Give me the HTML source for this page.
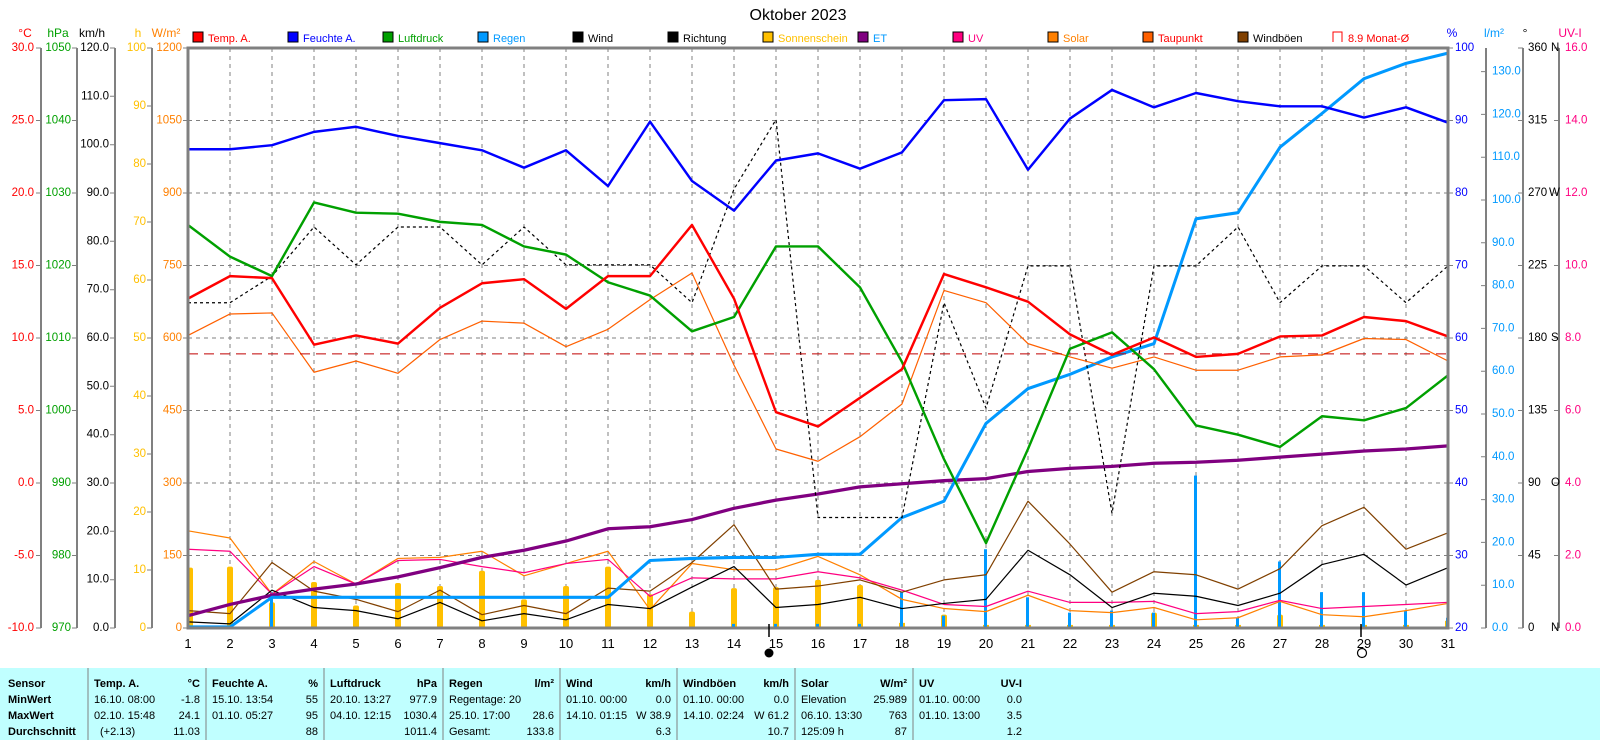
<!DOCTYPE html>
<html><head><meta charset="utf-8"><style>
html,body{margin:0;padding:0;background:#fff;}
svg{display:block;font-family:"Liberation Sans",sans-serif;}
</style></head><body>
<svg width="1600" height="740" viewBox="0 0 1600 740" xmlns="http://www.w3.org/2000/svg">
<rect width="1600" height="740" fill="#fff"/>
<text x="798" y="20" font-size="16" text-anchor="middle">Oktober 2023</text>
<g font-size="11">
<rect x="193" y="32" width="10" height="10" fill="#f00" stroke="#000"/><text x="208" y="42" fill="#f00">Temp. A.</text>
<rect x="288" y="32" width="10" height="10" fill="#00f" stroke="#000"/><text x="303" y="42" fill="#00f">Feuchte A.</text>
<rect x="383" y="32" width="10" height="10" fill="#00a000" stroke="#000"/><text x="398" y="42" fill="#00a000">Luftdruck</text>
<rect x="478" y="32" width="10" height="10" fill="#0099ff" stroke="#000"/><text x="493" y="42" fill="#0099ff">Regen</text>
<rect x="573" y="32" width="10" height="10" fill="#000" stroke="#000"/><text x="588" y="42" fill="#000">Wind</text>
<rect x="668" y="32" width="10" height="10" fill="#000" stroke="#000"/><text x="683" y="42" fill="#000">Richtung</text>
<rect x="763" y="32" width="10" height="10" fill="#ffc000" stroke="#000"/><text x="778" y="42" fill="#ffc000">Sonnenschein</text>
<rect x="858" y="32" width="10" height="10" fill="#800080" stroke="#000"/><text x="873" y="42" fill="#0099ff">ET</text>
<rect x="953" y="32" width="10" height="10" fill="#ff0080" stroke="#000"/><text x="968" y="42" fill="#ff0080">UV</text>
<rect x="1048" y="32" width="10" height="10" fill="#ff8000" stroke="#000"/><text x="1063" y="42" fill="#ff8000">Solar</text>
<rect x="1143" y="32" width="10" height="10" fill="#ff6000" stroke="#000"/><text x="1158" y="42" fill="#f00">Taupunkt</text>
<rect x="1238" y="32" width="10" height="10" fill="#804000" stroke="#000"/><text x="1253" y="42" fill="#000">Windböen</text>
<path d="M1333 42 V32 H1342 V42" fill="none" stroke="#f00"/><text x="1348" y="42" fill="#f00">8.9 Monat-Ø</text>
</g>
<g font-size="12" text-anchor="middle">
<text x="25" y="37" fill="#f00">°C</text><text x="58" y="37" fill="#00a000">hPa</text><text x="92" y="37">km/h</text>
<text x="138" y="37" fill="#ffc000">h</text><text x="166" y="37" fill="#ff8000">W/m²</text>
<text x="1452" y="37" fill="#00f">%</text><text x="1494" y="37" fill="#0099ff">l/m²</text><text x="1525" y="37">°</text><text x="1570" y="37" fill="#ff0080">UV-I</text>
</g>
<g stroke="#808080" stroke-width="1" stroke-dasharray="4,4">
<path d="M188 120.5H1448M188 193H1448M188 265.5H1448M188 338H1448M188 410.5H1448M188 483H1448M188 555.5H1448"/>
<path d="M230 48V628M272 48V628M314 48V628M356 48V628M398 48V628M440 48V628M482 48V628M524 48V628M566 48V628M608 48V628M650 48V628M692 48V628M734 48V628M776 48V628M818 48V628M860 48V628M902 48V628M944 48V628M986 48V628M1028 48V628M1070 48V628M1112 48V628M1154 48V628M1196 48V628M1238 48V628M1280 48V628M1322 48V628M1364 48V628M1406 48V628"/>
</g>
<g stroke="#808080" stroke-width="2" fill="none">
<path d="M41 48V628M77 48V628M115 48V628M152 48V628M1486 48V628M1523 48V628M1559 48V628"/>
</g>
<g stroke="#808080" stroke-width="1">
<path d="M36 48H41M36 120.5H41M36 193H41M36 265.5H41M36 338H41M36 410.5H41M36 483H41M36 555.5H41M36 628H41"/>
<path d="M72 48H77M72 120.5H77M72 193H77M72 265.5H77M72 338H77M72 410.5H77M72 483H77M72 555.5H77M72 628H77"/>
<path d="M110 48H115M110 96.3H115M110 144.7H115M110 193H115M110 241.3H115M110 289.7H115M110 338H115M110 386.3H115M110 434.7H115M110 483H115M110 531.3H115M110 579.7H115M110 628H115"/>
<path d="M147 48H152M147 106H152M147 164H152M147 222H152M147 280H152M147 338H152M147 396H152M147 454H152M147 512H152M147 570H152M147 628H152"/>
<path d="M183 48H188M183 120.5H188M183 193H188M183 265.5H188M183 338H188M183 410.5H188M183 483H188M183 555.5H188M183 628H188"/>
<path d="M1448 48H1453M1448 120.5H1453M1448 193H1453M1448 265.5H1453M1448 338H1453M1448 410.5H1453M1448 483H1453M1448 555.5H1453M1448 628H1453"/>
<path d="M1481 628H1486M1481 585.2H1486M1481 542.4H1486M1481 499.6H1486M1481 456.8H1486M1481 414H1486M1481 371.2H1486M1481 328.4H1486M1481 285.6H1486M1481 242.8H1486M1481 200H1486M1481 157.2H1486M1481 114.4H1486M1481 71.6H1486"/>
<path d="M1518 48H1523M1518 120.5H1523M1518 193H1523M1518 265.5H1523M1518 338H1523M1518 410.5H1523M1518 483H1523M1518 555.5H1523M1518 628H1523"/>
<path d="M1554 48H1559M1554 120.5H1559M1554 193H1559M1554 265.5H1559M1554 338H1559M1554 410.5H1559M1554 483H1559M1554 555.5H1559M1554 628H1559"/>
</g>
<g font-size="11.5" text-anchor="end" dominant-baseline="central">
<g fill="#f00"><text x="34" y="48">30.0</text><text x="34" y="120.5">25.0</text><text x="34" y="193">20.0</text><text x="34" y="265.5">15.0</text><text x="34" y="338">10.0</text><text x="34" y="410.5">5.0</text><text x="34" y="483">0.0</text><text x="34" y="555.5">-5.0</text><text x="34" y="628">-10.0</text></g>
<g fill="#00a000"><text x="71" y="48">1050</text><text x="71" y="120.5">1040</text><text x="71" y="193">1030</text><text x="71" y="265.5">1020</text><text x="71" y="338">1010</text><text x="71" y="410.5">1000</text><text x="71" y="483">990</text><text x="71" y="555.5">980</text><text x="71" y="628">970</text></g>
<g fill="#000"><text x="109" y="48">120.0</text><text x="109" y="96.3">110.0</text><text x="109" y="144.7">100.0</text><text x="109" y="193">90.0</text><text x="109" y="241.3">80.0</text><text x="109" y="289.7">70.0</text><text x="109" y="338">60.0</text><text x="109" y="386.3">50.0</text><text x="109" y="434.7">40.0</text><text x="109" y="483">30.0</text><text x="109" y="531.3">20.0</text><text x="109" y="579.7">10.0</text><text x="109" y="628">0.0</text></g>
<g fill="#ffc000"><text x="146" y="48">100</text><text x="146" y="106">90</text><text x="146" y="164">80</text><text x="146" y="222">70</text><text x="146" y="280">60</text><text x="146" y="338">50</text><text x="146" y="396">40</text><text x="146" y="454">30</text><text x="146" y="512">20</text><text x="146" y="570">10</text><text x="146" y="628">0</text></g>
<g fill="#ff8000"><text x="182" y="48">1200</text><text x="182" y="120.5">1050</text><text x="182" y="193">900</text><text x="182" y="265.5">750</text><text x="182" y="338">600</text><text x="182" y="410.5">450</text><text x="182" y="483">300</text><text x="182" y="555.5">150</text><text x="182" y="628">0</text></g>
</g>
<g font-size="11.5" dominant-baseline="central">
<g fill="#00f"><text x="1455" y="48">100</text><text x="1455" y="120.5">90</text><text x="1455" y="193">80</text><text x="1455" y="265.5">70</text><text x="1455" y="338">60</text><text x="1455" y="410.5">50</text><text x="1455" y="483">40</text><text x="1455" y="555.5">30</text><text x="1455" y="628">20</text></g>
<g fill="#0099ff"><text x="1492" y="628">0.0</text><text x="1492" y="585.2">10.0</text><text x="1492" y="542.4">20.0</text><text x="1492" y="499.6">30.0</text><text x="1492" y="456.8">40.0</text><text x="1492" y="414">50.0</text><text x="1492" y="371.2">60.0</text><text x="1492" y="328.4">70.0</text><text x="1492" y="285.6">80.0</text><text x="1492" y="242.8">90.0</text><text x="1492" y="200">100.0</text><text x="1492" y="157.2">110.0</text><text x="1492" y="114.4">120.0</text><text x="1492" y="71.6">130.0</text></g>
<g fill="#000"><text x="1528" y="48">360</text><text x="1551" y="48">N</text><text x="1528" y="120.5">315</text><text x="1528" y="193">270</text><text x="1549" y="193">W</text><text x="1528" y="265.5">225</text><text x="1528" y="338">180</text><text x="1551" y="338">S</text><text x="1528" y="410.5">135</text><text x="1528" y="483">90</text><text x="1551" y="483">O</text><text x="1528" y="555.5">45</text><text x="1528" y="628">0</text><text x="1551" y="628">N</text></g>
<g fill="#ff0080"><text x="1565" y="48">16.0</text><text x="1565" y="120.5">14.0</text><text x="1565" y="193">12.0</text><text x="1565" y="265.5">10.0</text><text x="1565" y="338">8.0</text><text x="1565" y="410.5">6.0</text><text x="1565" y="483">4.0</text><text x="1565" y="555.5">2.0</text><text x="1565" y="628">0.0</text></g>
</g>
<g transform="translate(0,48) scale(1,1.0229) translate(0,-48)" fill="none" stroke-linejoin="round">
<g fill="#ffc000">
<rect x="188" y="556" width="5" height="59" rx="2"/><rect x="227" y="555" width="6" height="60" rx="2"/><rect x="269" y="590" width="6" height="25" rx="2"/><rect x="311" y="570" width="6" height="45" rx="2"/><rect x="353" y="593" width="6" height="22" rx="2"/><rect x="395" y="571" width="6" height="44" rx="2"/><rect x="437" y="574" width="6" height="41" rx="2"/><rect x="479" y="559" width="6" height="56" rx="2"/><rect x="521" y="587" width="6" height="28" rx="2"/><rect x="563" y="574" width="6" height="41" rx="2"/><rect x="605" y="555" width="6" height="60" rx="2"/><rect x="647" y="582" width="6" height="33" rx="2"/><rect x="689" y="599" width="6" height="16" rx="2"/><rect x="731" y="576" width="6" height="39" rx="2"/><rect x="773" y="575" width="6" height="40" rx="2"/><rect x="815" y="568" width="6" height="47" rx="2"/><rect x="857" y="573" width="6" height="42" rx="2"/><rect x="899" y="610" width="6" height="5"/><rect x="941" y="602" width="6" height="13" rx="2"/><rect x="983" y="612" width="6" height="3"/><rect x="1025" y="612" width="6" height="3"/><rect x="1067" y="612" width="6" height="3"/><rect x="1109" y="612" width="6" height="3"/><rect x="1151" y="600" width="6" height="15" rx="2"/><rect x="1193" y="612" width="6" height="3"/><rect x="1235" y="612" width="6" height="3"/><rect x="1277" y="602" width="6" height="13" rx="2"/><rect x="1319" y="612" width="6" height="3"/><rect x="1361" y="612" width="6" height="3"/><rect x="1403" y="612" width="6" height="3"/><rect x="1445" y="608" width="3" height="7"/>
</g>
<g fill="#0099ff">
<rect x="270" y="580" width="3" height="35"/><rect x="900" y="580" width="3" height="35"/><rect x="942" y="603" width="3" height="12"/><rect x="984" y="538" width="3" height="77"/><rect x="1026" y="585" width="3" height="30"/><rect x="1068" y="600" width="3" height="15"/><rect x="1110" y="598" width="3" height="17"/><rect x="1152" y="600" width="3" height="15"/><rect x="1194" y="466" width="3" height="149"/><rect x="1236" y="605" width="3" height="10"/><rect x="1278" y="550" width="3" height="65"/><rect x="1320" y="580" width="3" height="35"/><rect x="1362" y="580" width="3" height="35"/><rect x="1404" y="598" width="3" height="17"/><rect x="1446" y="605" width="2" height="10"/>
<rect x="816" y="611" width="3" height="4"/><rect x="774" y="611" width="3" height="4"/><rect x="732" y="611" width="3" height="4"/><rect x="858" y="611" width="3" height="4"/>
</g>
<polyline stroke="#ff8000" stroke-width="1.2" points="188,520 230,527 272,582 314,550 356,572 398,547 440,546 482,540 524,564 566,552 608,540 650,597 692,552 734,558 776,558 818,545 860,563 902,587 944,596 986,599 1028,583 1070,598 1112,600 1154,595 1196,607 1238,605 1280,589 1322,602 1364,604 1406,598 1448,591"/>
<polyline stroke="#ff0080" stroke-width="1.2" points="188,538 230,540 272,582 314,555 356,572 398,549 440,548 482,555 524,561 566,552 608,548 650,584 692,566 734,567 776,567 818,560 860,566 902,578 944,592 986,594 1028,579 1070,590 1112,590 1154,589 1196,601 1238,599 1280,588 1322,596 1364,594 1406,592 1448,590"/>
<polyline stroke="#804000" stroke-width="1.2" points="188,598 230,601 272,551 314,579 356,587 398,599 440,578 482,602 524,593 566,601 608,576 650,579 692,551 734,514 776,577 818,574 860,568 902,580 944,568 986,563 1028,491 1070,533 1112,580 1154,560 1196,563 1238,577 1280,557 1322,515 1364,497 1406,538 1448,522"/>
<polyline stroke="#000" stroke-width="1.2" points="188,609 230,611 272,578 314,595 356,598 398,606 440,590 482,608 524,601 566,607 608,592 650,596 692,575 734,555 776,595 818,592 860,585 902,596 944,591 986,587 1028,539 1070,563 1112,595 1154,581 1196,584 1238,593 1280,581 1322,553 1364,543 1406,573 1448,556"/>
<polyline stroke="#800080" stroke-width="3.2" points="188,603 230,592 272,583 314,577 356,572 398,565 440,556 482,546 524,539 566,530 608,518 650,516 692,509 734,498 776,490 818,484 860,477 902,474 944,471 986,469 1028,462 1070,459 1112,457 1154,454 1196,453 1238,451 1280,448 1322,445 1364,442 1406,440 1448,437"/>
<polyline stroke="#0099ff" stroke-width="3" points="188,614 230,614 272,585 314,585 356,585 398,585 440,585 482,585 524,585 566,585 608,585 650,549 692,547 734,546 776,546 818,543 860,543 902,507 944,491 986,415 1028,381 1070,367 1112,350 1154,337 1196,215 1238,209 1280,145 1322,112 1364,78 1406,63 1448,53"/>
<polyline stroke="#000" stroke-width="1.2" stroke-dasharray="3,3" points="188,297 230,297 272,271 314,223 356,260 398,223 440,223 482,260 524,223 566,260 608,260 650,260 692,297 734,186 776,118 818,507 860,507 902,507 944,297 986,400 1028,261 1070,261 1112,503 1154,261 1196,261 1238,223 1280,297 1322,261 1364,261 1406,297 1448,261"/>
<polyline stroke="#ff6000" stroke-width="1.2" points="188,329 230,308 272,307 314,365 356,354 398,366 440,333 482,315 524,317 566,340 608,323 650,294 692,268 734,358 776,440 818,452 860,428 902,396 944,285 986,297 1028,337 1070,350 1112,361 1154,350 1196,363 1238,363 1280,350 1322,348 1364,332 1406,333 1448,354"/>
<line x1="188" y1="347" x2="1448" y2="347" stroke="#c00000" stroke-width="1" stroke-dasharray="10,6"/>
<polyline stroke="#00a000" stroke-width="2.4" points="188,221 230,252 272,271 314,199 356,209 398,210 440,218 482,221 524,242 566,250 608,277 650,290 692,325 734,311 776,242 818,242 860,282 902,355 944,450 986,532 1028,440 1070,342 1112,326 1154,362 1196,417 1238,426 1280,438 1322,408 1364,412 1406,400 1448,368"/>
<polyline stroke="#0000ff" stroke-width="2.4" points="188,147 230,147 272,143 314,130 356,125 398,134 440,141 482,148 524,165 566,148 608,183 650,120 692,178 734,207 776,158 818,151 860,166 902,150 944,99 986,98 1028,167 1070,117 1112,89 1154,106 1196,92 1238,100 1280,105 1322,105 1364,116 1406,106 1448,121"/>
<polyline stroke="#ff0000" stroke-width="2.4" points="188,293 230,271 272,273 314,338 356,329 398,337 440,302 482,278 524,274 566,303 608,271 650,271 692,221 734,293 776,404 818,418 860,390 902,362 944,269 986,282 1028,296 1070,328 1112,348 1154,331 1196,350 1238,347 1280,330 1322,329 1364,311 1406,315 1448,330"/>
</g>
<rect x="188" y="48" width="1260" height="580" fill="none" stroke="#808080" stroke-width="3"/>
<g font-size="13" text-anchor="middle">
<text x="188" y="648">1</text><text x="230" y="648">2</text><text x="272" y="648">3</text><text x="314" y="648">4</text><text x="356" y="648">5</text><text x="398" y="648">6</text><text x="440" y="648">7</text><text x="482" y="648">8</text><text x="524" y="648">9</text><text x="566" y="648">10</text><text x="608" y="648">11</text><text x="650" y="648">12</text><text x="692" y="648">13</text><text x="734" y="648">14</text><text x="776" y="648">15</text><text x="818" y="648">16</text><text x="860" y="648">17</text><text x="902" y="648">18</text><text x="944" y="648">19</text><text x="986" y="648">20</text><text x="1028" y="648">21</text><text x="1070" y="648">22</text><text x="1112" y="648">23</text><text x="1154" y="648">24</text><text x="1196" y="648">25</text><text x="1238" y="648">26</text><text x="1280" y="648">27</text><text x="1322" y="648">28</text><text x="1364" y="648">29</text><text x="1406" y="648">30</text><text x="1448" y="648">31</text>
</g>
<path d="M769 624V637M1361 624V637" stroke="#000" stroke-width="1.5"/>
<circle cx="769" cy="653" r="4.5" fill="#000"/>
<circle cx="1362" cy="653" r="4.5" fill="none" stroke="#000" stroke-width="1.2"/>
<rect x="0" y="668" width="1600" height="72" fill="#c0ffff"/>
<path d="M88 668V740M206 668V740M324 668V740M443 668V740M560 668V740M677 668V740M795 668V740M913 668V740" stroke="#808080" stroke-width="1"/>
<g font-size="11" fill="#000">
<g font-weight="bold"><text x="8" y="687">Sensor</text><text x="8" y="703">MinWert</text><text x="8" y="719">MaxWert</text><text x="8" y="735">Durchschnitt</text>
<text x="94" y="687">Temp. A.</text><text x="212" y="687">Feuchte A.</text><text x="330" y="687">Luftdruck</text><text x="449" y="687">Regen</text><text x="566" y="687">Wind</text><text x="683" y="687">Windböen</text><text x="801" y="687">Solar</text><text x="919" y="687">UV</text>
<g text-anchor="end"><text x="200" y="687">°C</text><text x="318" y="687">%</text><text x="437" y="687">hPa</text><text x="554" y="687">l/m²</text><text x="671" y="687">km/h</text><text x="789" y="687">km/h</text><text x="907" y="687">W/m²</text><text x="1022" y="687">UV-I</text></g></g>
<text x="94" y="703">16.10. 08:00</text><text x="94" y="719">02.10. 15:48</text><text x="100" y="735">(+2.13)</text>
<text x="212" y="703">15.10. 13:54</text><text x="212" y="719">01.10. 05:27</text>
<text x="330" y="703">20.10. 13:27</text><text x="330" y="719">04.10. 12:15</text>
<text x="449" y="703">Regentage: 20</text><text x="449" y="719">25.10. 17:00</text><text x="449" y="735">Gesamt:</text>
<text x="566" y="703">01.10. 00:00</text><text x="566" y="719">14.10. 01:15</text>
<text x="683" y="703">01.10. 00:00</text><text x="683" y="719">14.10. 02:24</text>
<text x="801" y="703">Elevation</text><text x="801" y="719">06.10. 13:30</text><text x="801" y="735">125:09 h</text>
<text x="919" y="703">01.10. 00:00</text><text x="919" y="719">01.10. 13:00</text>
<g text-anchor="end">
<text x="200" y="703">-1.8</text><text x="200" y="719">24.1</text><text x="200" y="735">11.03</text>
<text x="318" y="703">55</text><text x="318" y="719">95</text><text x="318" y="735">88</text>
<text x="437" y="703">977.9</text><text x="437" y="719">1030.4</text><text x="437" y="735">1011.4</text>
<text x="554" y="719">28.6</text><text x="554" y="735">133.8</text>
<text x="671" y="703">0.0</text><text x="671" y="719">W 38.9</text><text x="671" y="735">6.3</text>
<text x="789" y="703">0.0</text><text x="789" y="719">W 61.2</text><text x="789" y="735">10.7</text>
<text x="907" y="703">25.989</text><text x="907" y="719">763</text><text x="907" y="735">87</text>
<text x="1022" y="703">0.0</text><text x="1022" y="719">3.5</text><text x="1022" y="735">1.2</text>
</g>
</g>
</svg>
</body></html>
